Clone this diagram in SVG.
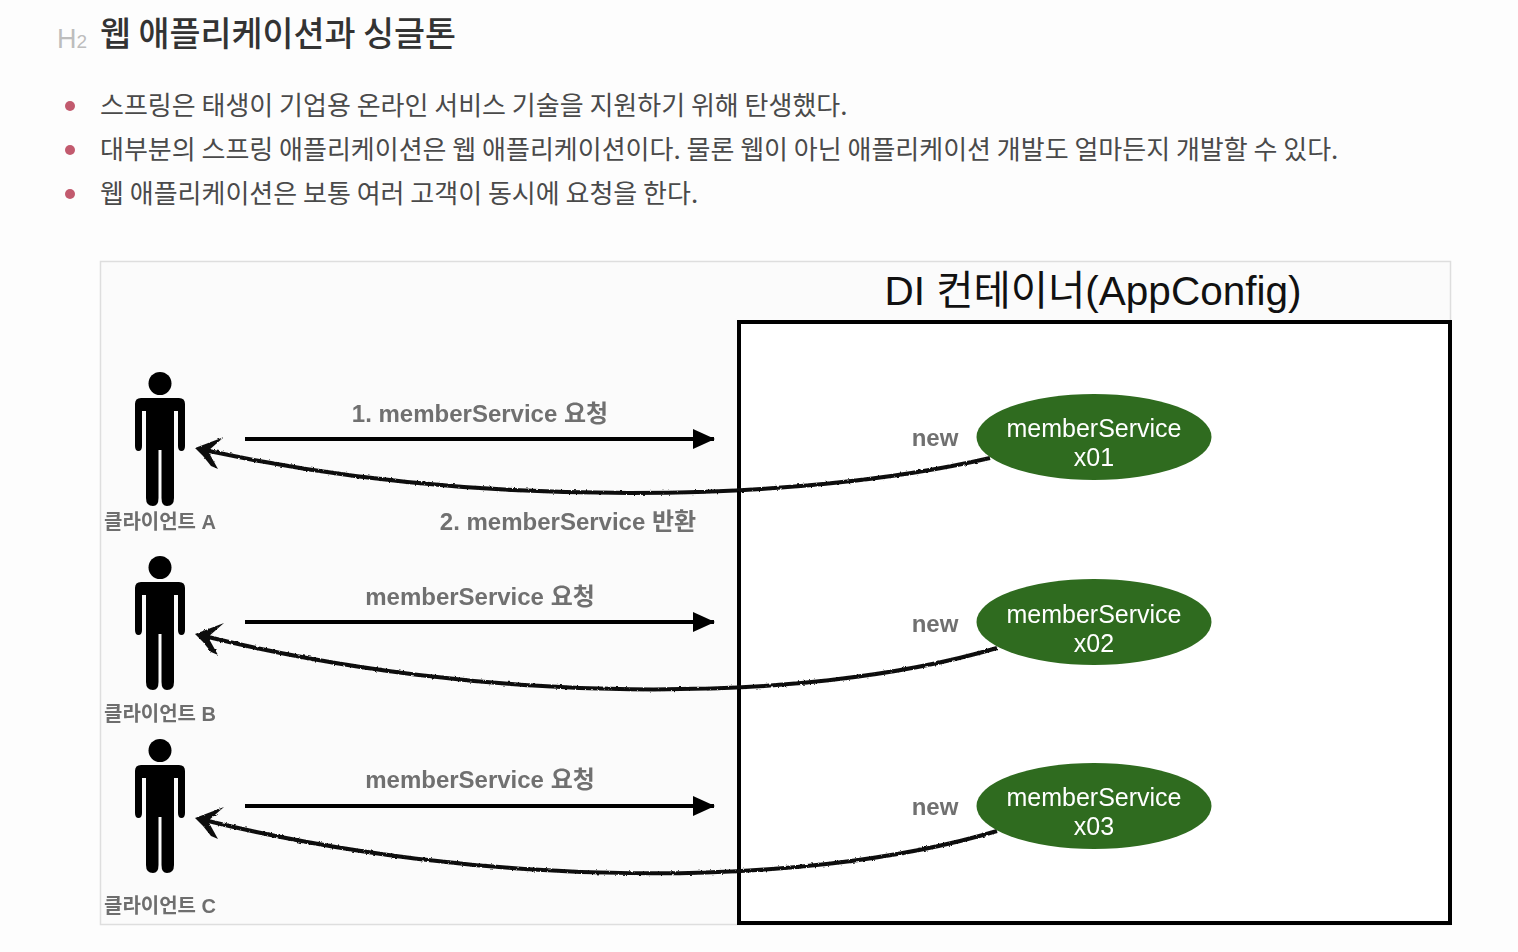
<svg xmlns="http://www.w3.org/2000/svg" width="1518" height="952" viewBox="0 0 1518 952">
<style>
text{font-family:"Noto Sans CJK KR","Liberation Sans",sans-serif}
.b{font-size:26px;fill:#4a4a4a}
.l{font-family:"Liberation Sans","Noto Sans CJK KR",sans-serif;font-size:24px;font-weight:700;fill:#707070;text-anchor:middle}
.c{font-family:"Liberation Sans","Noto Sans CJK KR",sans-serif;font-size:20px;font-weight:700;fill:#6e6e6e;text-anchor:middle}
.n{font-family:"Liberation Sans",sans-serif;font-size:25px;fill:#fff;text-anchor:middle;font-weight:400}
.d{fill:#c25a6e}
.a{stroke:#000;stroke-width:4;fill:none}
.r{stroke:#111;stroke-width:4;fill:none}
.rh{fill:#111}
</style>
<defs>
<filter id="rough" filterUnits="userSpaceOnUse" x="180" y="420" width="830" height="480"><feTurbulence type="fractalNoise" baseFrequency="0.35" numOctaves="2" seed="4"/><feDisplacementMap in="SourceGraphic" scale="2.500" xChannelSelector="R" yChannelSelector="G"/></filter>
<g id="person">
<circle cx="0" cy="11.500" r="11.500" fill="#000"/>
<path d="M-19 26H19Q25 26 25 32V74Q25 79 21.500 79Q18 79 18 74V39H14V126Q14 134 7 134Q1.500 134 1.500 126V78H-1.500V126Q-1.500 134 -7 134Q-14 134 -14 126V39H-18V74Q-18 79 -21.500 79Q-25 79 -25 74V32Q-25 26 -19 26Z" fill="#000"/>
</g>
<marker id="tip" markerUnits="userSpaceOnUse" markerWidth="24" markerHeight="22" refX="21" refY="10" orient="auto"><path d="M0 0L22 10L0 20Z" fill="#000"/></marker>
<path id="rhead" class="rh" d="M0 0L29 -11L13 3L23 21L16 18L8 8Z"/>
</defs>
<rect width="1518" height="952" fill="#fdfdfd"/>
<g id="heading">
<text x="57" y="48" font-size="27" fill="#bdbdbd" style="font-family:'Liberation Sans',sans-serif">H<tspan font-size="19">2</tspan></text>
<text x="100" y="46" font-size="33.700" font-weight="500" fill="#333">웹 애플리케이션과 싱글톤</text>
</g>
<g id="bullets">
<circle class="d" cx="70" cy="106" r="5"/><text class="b" x="100" y="115">스프링은 태생이 기업용 온라인 서비스 기술을 지원하기 위해 탄생했다.</text>
<circle class="d" cx="70" cy="150" r="5"/><text class="b" x="100" y="159">대부분의 스프링 애플리케이션은 웹 애플리케이션이다. 물론 웹이 아닌 애플리케이션 개발도 얼마든지 개발할 수 있다.</text>
<circle class="d" cx="70" cy="194" r="5"/><text class="b" x="100" y="203">웹 애플리케이션은 보통 여러 고객이 동시에 요청을 한다.</text>
</g>
<rect id="frame" x="100.500" y="261.500" width="1350" height="663" fill="#fbfbfb" stroke="#dedede" stroke-width="1.500"/>
<g id="container">
<rect x="739" y="322" width="711" height="601" fill="#fff" stroke="#000" stroke-width="4"/>
<text x="1093" y="305" text-anchor="middle" font-size="40.500" fill="#111" style="font-family:'Liberation Sans','Noto Sans CJK KR',sans-serif">DI 컨테이너(AppConfig)</text>
</g>
<g id="connectors">
<path class="a" marker-end="url(#tip)" d="M245 439H714"/>
<path class="a" marker-end="url(#tip)" d="M245 622H714"/>
<path class="a" marker-end="url(#tip)" d="M245 806H714"/>
<g filter="url(#rough)">
<path class="r" d="M990 458C800 502 480 510 204 450"/><use href="#rhead" x="195" y="448"/>
<path class="r" d="M997 648C800 706 480 704 204 636"/><use href="#rhead" x="195" y="634"/>
<path class="r" d="M997 831C800 890 480 888 204 820"/><use href="#rhead" x="195" y="818"/>
</g>
</g>
<g id="client-a"><use href="#person" x="160" y="372"/><text class="c" x="160" y="529">클라이언트 A</text></g>
<g id="client-b"><use href="#person" x="160" y="556"/><text class="c" x="160" y="721">클라이언트 B</text></g>
<g id="client-c"><use href="#person" x="160" y="739"/><text class="c" x="160" y="913">클라이언트 C</text></g>
<g id="labels">
<text class="l" x="480" y="422">1. memberService 요청</text>
<text class="l" x="568" y="530">2. memberService 반환</text>
<text class="l" x="480" y="605">memberService 요청</text>
<text class="l" x="480" y="788">memberService 요청</text>
<text class="l" x="935" y="446">new</text>
<text class="l" x="935" y="632">new</text>
<text class="l" x="935" y="815">new</text>
</g>
<g id="x01"><ellipse cx="1094" cy="437" rx="117.500" ry="43" fill="#2f6b1f"/><text class="n" x="1094" y="437">memberService</text><text class="n" x="1094" y="466">x01</text></g>
<g id="x02"><ellipse cx="1094" cy="622" rx="117.500" ry="43" fill="#2f6b1f"/><text class="n" x="1094" y="623">memberService</text><text class="n" x="1094" y="652">x02</text></g>
<g id="x03"><ellipse cx="1094" cy="806" rx="117.500" ry="43" fill="#2f6b1f"/><text class="n" x="1094" y="806">memberService</text><text class="n" x="1094" y="835">x03</text></g>
</svg>
